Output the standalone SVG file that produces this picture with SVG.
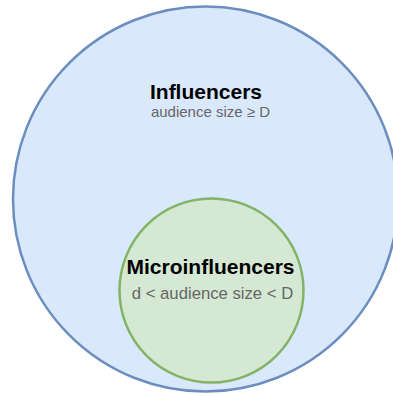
<svg xmlns="http://www.w3.org/2000/svg" width="393" height="396" viewBox="0 0 393 396">
<style>
.title{font-family:"Liberation Sans",Arial,sans-serif;font-weight:bold;font-size:21px;fill:#000;text-anchor:middle}
.sub{font-family:"Liberation Sans",Arial,sans-serif;fill:#666666;text-anchor:middle}
</style>
<rect width="393" height="396" fill="#ffffff"/>
<g id="influencers">
<circle cx="205.5" cy="199" r="192.5" fill="#dae8fc" stroke="#6c8ebf" stroke-width="2.5"/>
<text class="title" x="206" y="99">Influencers</text>
<text class="sub" x="210.5" y="116.5" font-size="15">audience size ≥ D</text>
</g>
<g id="microinfluencers">
<circle cx="211.5" cy="290.5" r="92" fill="#d5e8d4" stroke="#82b366" stroke-width="2.5"/>
<text class="title" x="210.5" y="273.5">Microinfluencers</text>
<text class="sub" x="212.5" y="299" font-size="16.7">d &lt; audience size &lt; D</text>
</g>
<g id="connectors"/>
</svg>
